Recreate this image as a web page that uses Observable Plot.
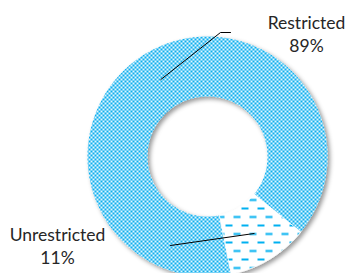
<!DOCTYPE html>
<html>
<head>
<meta charset="utf-8">
<script src="https://cdn.jsdelivr.net/npm/d3@7"></script>
<script src="https://cdn.jsdelivr.net/npm/@observablehq/plot@0.6"></script>
<style>
  html, body { margin: 0; padding: 0; background: #fff; }
  #chart { width: 347px; height: 273px; overflow: hidden; }
</style>
</head>
<body>
<div id="chart"></div>
<script>
// ---- data ----
const categories = ["Restricted", "Unrestricted"];
const shares = [89, 11];
const labelTexts = ["89%", "11%"];
const patterns = ["checker", "dashes"];

// ---- layout (pixel units of the 347x273 canvas) ----
const W = 347, H = 273;
const cx = 207, cy = 156, R0 = 60, R1 = 120;
const startDeg = 168.6;
// label anchor (text centre) and leader-line elbow for each slice
const labelPos = [{x: 306, y: 28}, {x: 57, y: 240}];
const elbows = [[{x: 220, y: 32}, {x: 230, y: 32}], [{x: 170, y: 245}]];

const slices = categories.map((c, i) => ({category: c, value: shares[i], label: labelTexts[i], pattern: patterns[i]}));
const pie = d3.pie().sort(null).value(d => d.value)
  .startAngle(startDeg * Math.PI / 180).endAngle(startDeg * Math.PI / 180 + 2 * Math.PI);
const arcs = pie(slices);

const pt = (a, r) => ({x: cx + r * Math.sin(a), y: cy - r * Math.cos(a)});

// ring-segment outlines
const ringPts = [];
arcs.forEach((a, i) => {
  const n = Math.max(8, Math.ceil((a.endAngle - a.startAngle) / 0.01));
  const outer = d3.range(n + 1).map(k => pt(a.startAngle + (a.endAngle - a.startAngle) * k / n, R1));
  const inner = d3.range(n + 1).map(k => pt(a.endAngle - (a.endAngle - a.startAngle) * k / n, R0));
  [...outer, ...inner].forEach(p => ringPts.push({...p, slice: i}));
});

// leader lines: from slice centroid (mid radius) through elbows
const leaderPts = [];
arcs.forEach((a, i) => {
  const mid = (a.startAngle + a.endAngle) / 2;
  leaderPts.push({...pt(mid, (R0 + R1) / 2), slice: i});
  elbows[i].forEach(p => leaderPts.push({...p, slice: i}));
});

const textRows = [];
arcs.forEach((a, i) => {
  textRows.push({x: labelPos[i].x, y: labelPos[i].y, text: a.data.category});
  textRows.push({x: labelPos[i].x, y: labelPos[i].y + 23, text: a.data.label});
});

const chart = Plot.plot({
  width: W, height: H,
  margin: 0,
  x: {domain: [0, W], range: [0, W], axis: null},
  y: {domain: [0, H], range: [0, H], axis: null},
  marks: [
    Plot.line(ringPts.filter(d => d.slice === 0), {x: "x", y: "y", curve: "linear-closed", fill: "#00b0f0", stroke: "none", className: "slice0"}),
    Plot.line(ringPts.filter(d => d.slice === 1), {x: "x", y: "y", curve: "linear-closed", fill: "#00b0f0", stroke: "none", className: "slice1"}),
    Plot.line(leaderPts, {x: "x", y: "y", z: "slice", stroke: "#000", strokeWidth: 1}),
    Plot.text(textRows, {x: "x", y: "y", text: "text", fill: "#262626", fontSize: 17.5, textAnchor: "middle", lineAnchor: "bottom"})
  ]
});

// pattern fills & soft shadow
const svg = d3.select(chart);
svg.style("font-family", "Lato, 'Open Sans', sans-serif").style("overflow", "hidden");
const defs = svg.insert("defs", ":first-child");
const chk = defs.append("pattern").attr("id", "checker").attr("patternUnits", "userSpaceOnUse").attr("width", 4).attr("height", 4);
chk.append("rect").attr("width", 4).attr("height", 4).attr("fill", "#e4f6fd");
chk.append("rect").attr("width", 2).attr("height", 2).attr("fill", "#0aaeee");
chk.append("rect").attr("x", 2).attr("y", 2).attr("width", 2).attr("height", 2).attr("fill", "#0aaeee");
const dsh = defs.append("pattern").attr("id", "dashes").attr("patternUnits", "userSpaceOnUse").attr("width", 16).attr("height", 17);
dsh.append("rect").attr("width", 16).attr("height", 17).attr("fill", "#fff");
dsh.append("rect").attr("x", 1).attr("y", 3).attr("width", 7).attr("height", 2).attr("fill", "#00b0f0");
dsh.append("rect").attr("x", 9).attr("y", 11.5).attr("width", 7).attr("height", 2).attr("fill", "#00b0f0");
const f = defs.append("filter").attr("id", "shadow").attr("x", "-20%").attr("y", "-20%").attr("width", "140%").attr("height", "140%");
f.append("feDropShadow").attr("dx", 2.5).attr("dy", 2.5).attr("stdDeviation", 2.2).attr("flood-color", "#000").attr("flood-opacity", 0.4);

svg.select(".slice0").selectAll("path").attr("fill", "url(#checker)");
svg.select(".slice1").selectAll("path").attr("fill", "url(#dashes)");
// group both slices under one shadow
const ringGroup = svg.insert("g", ".slice0").attr("filter", "url(#shadow)");
ringGroup.node().appendChild(svg.select(".slice0").node());
ringGroup.node().appendChild(svg.select(".slice1").node());
svg.select(".slice1").selectAll("path").attr("stroke", "#fff").attr("stroke-width", 0.8);

document.getElementById("chart").appendChild(chart);
</script>
</body>
</html>
